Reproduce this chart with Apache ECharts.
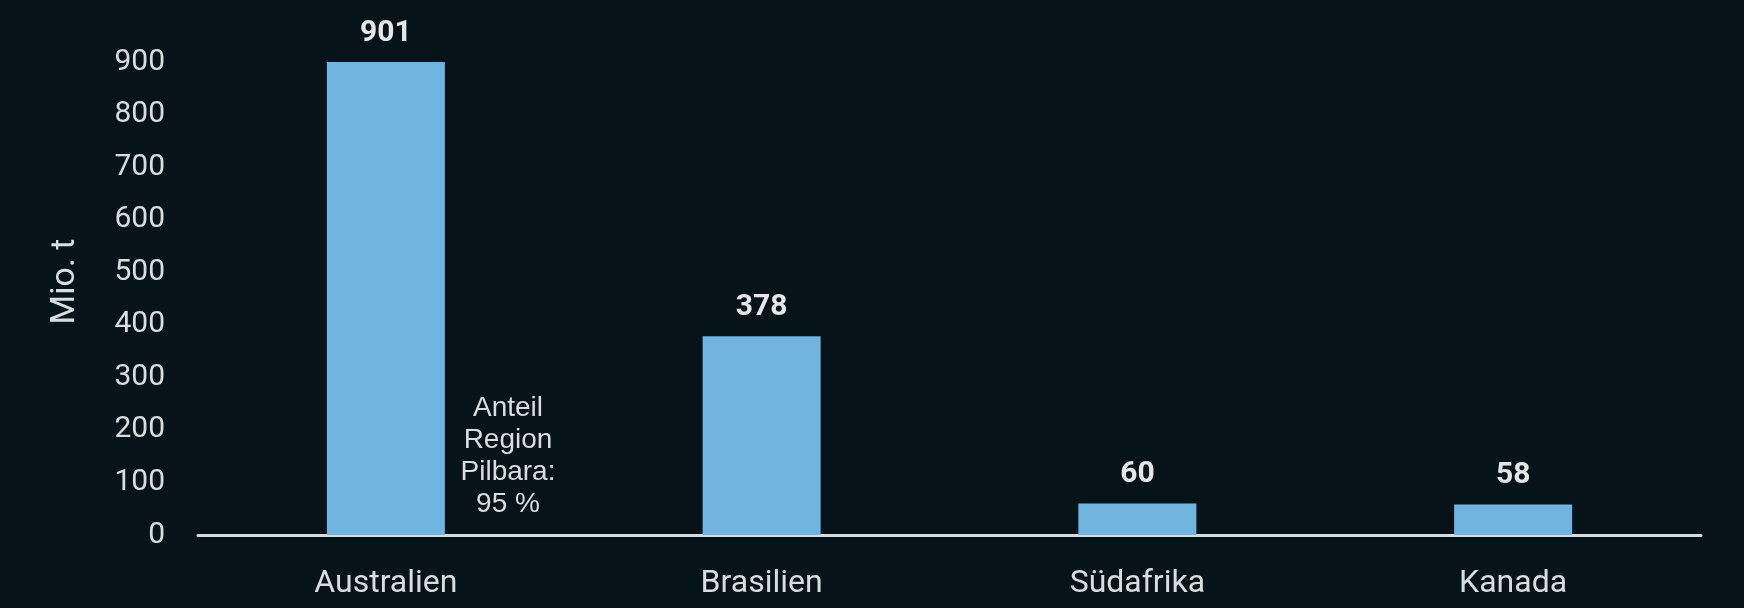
<!DOCTYPE html>
<html>
<head>
<meta charset="utf-8">
<script src="https://cdn.jsdelivr.net/npm/echarts@6/dist/echarts.min.js"></script>
<style>
html,body{margin:0;padding:0;background:#061419;}
#chart{width:1744px;height:608px;}
</style>
</head>
<body>
<div id="chart"></div>
<script>
const categories = ['Australien', 'Brasilien', 'Südafrika', 'Kanada'];
const values = [901, 378, 60, 58];
const yTicks = { min: 0, max: 900, interval: 100 };
const yAxisTitle = 'Mio. t';
const annotationLines = ['Anteil', 'Region', 'Pilbara:', '95 %'];

const chart = echarts.init(document.getElementById('chart'));
chart.setOption({
  backgroundColor: '#061419',
  animation: false,
  grid: { left: 198, right: 43, top: 62, bottom: 73 },
  xAxis: {
    type: 'category',
    data: categories,
    axisLine: { show: true, lineStyle: { color: '#d3dbdf', width: 3 } },
    axisTick: { show: false },
    axisLabel: { color: '#d8dde0', fontSize: 32, fontFamily: 'Roboto', lineHeight: 34, margin: 32 }
  },
  yAxis: {
    type: 'value',
    min: yTicks.min, max: yTicks.max, interval: yTicks.interval,
    name: yAxisTitle,
    nameLocation: 'middle',
    nameRotate: 90,
    nameGap: 116,
    nameTextStyle: { color: '#d8dde0', fontSize: 34, fontFamily: 'Roboto', padding: [0, 0, 0, 34] },
    axisLine: { show: false },
    axisTick: { show: false },
    splitLine: { show: false },
    axisLabel: { color: '#d8dde0', fontSize: 30, fontFamily: 'Roboto', margin: 33 }
  },
  series: [{
    type: 'bar',
    data: values,
    barWidth: 118,
    itemStyle: { color: '#70b5df' },
    label: {
      show: true, position: 'top', distance: 14,
      color: '#e4e6e8', fontSize: 30, fontWeight: 'bold', fontFamily: 'Roboto'
    }
  }],
  graphic: [{
    type: 'text',
    x: 508, y: 392,
    style: {
      text: annotationLines.join('\n'),
      fill: '#d8dde0',
      font: '28px "Liberation Sans", Arial, sans-serif',
      lineHeight: 32,
      align: 'center',
      verticalAlign: 'top'
    }
  }]
});
</script>
</body>
</html>
